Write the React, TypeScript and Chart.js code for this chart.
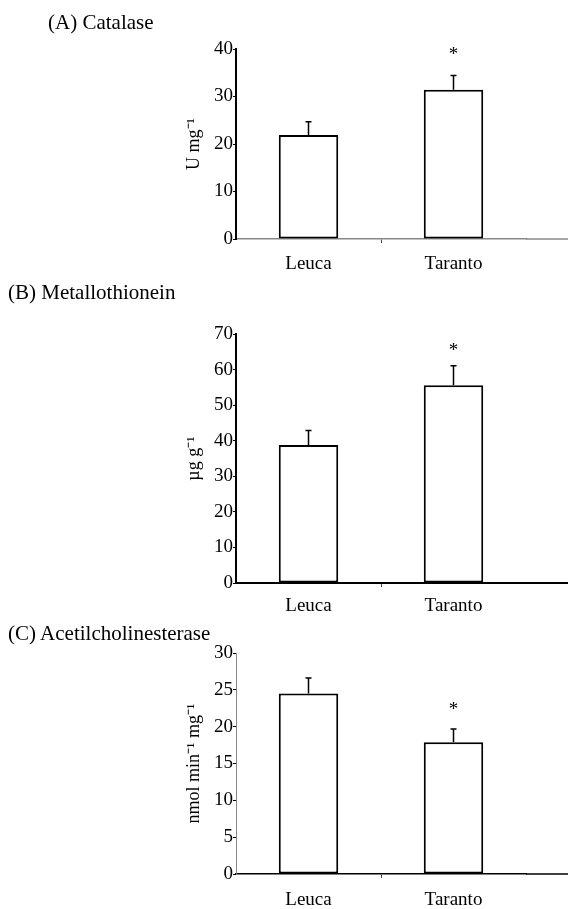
import React, { useEffect, useRef } from 'react';
import { Chart, registerables } from 'chart.js';

Chart.register(...registerables);

const categories = ['Leuca', 'Taranto'];

const catalaseValues = [21.9, 31.4];
const catalaseErrors = [2.8, 3.0];
const catalaseSig = [false, true];

const metallothioneinValues = [38.8, 55.6];
const metallothioneinErrors = [4.1, 5.5];
const metallothioneinSig = [false, true];

const acheValues = [24.5, 17.9];
const acheErrors = [2.1, 1.8];
const acheSig = [false, true];

const SERIF = "'Liberation Serif', 'Times New Roman', serif";

const errorPlugin = {
  id: 'errorBars',
  afterDatasetsDraw(chart: any, _args: any, opts: any) {
    const ctx = chart.ctx;
    const meta = chart.getDatasetMeta(0);
    const yScale = chart.scales.y;
    const values = chart.data.datasets[0].data as number[];
    ctx.save();
    meta.data.forEach((bar: any, i: number) => {
      const x = bar.x;
      const yTop = yScale.getPixelForValue(values[i]);
      const yErr = yScale.getPixelForValue(values[i] + opts.errors[i]);
      ctx.strokeStyle = '#000';
      ctx.lineWidth = 1.5;
      ctx.beginPath();
      ctx.moveTo(x, yTop);
      ctx.lineTo(x, yErr);
      ctx.moveTo(x - 3, yErr);
      ctx.lineTo(x + 3, yErr);
      ctx.stroke();
      if (opts.sig[i]) {
        ctx.fillStyle = '#000';
        ctx.font = `19px ${SERIF}`;
        ctx.textAlign = 'center';
        ctx.textBaseline = 'middle';
        ctx.fillText('*', x, yErr - opts.starGap);
      }
    });
    // extend x axis line to the right edge
    const a = chart.chartArea;
    ctx.strokeStyle = opts.xColor;
    ctx.lineWidth = opts.xWidth;
    ctx.beginPath();
    ctx.moveTo(a.right, a.bottom);
    ctx.lineTo(chart.width, a.bottom);
    ctx.stroke();
    ctx.restore();
  },
};

type PanelProps = {
  top: number;
  height: number;
  padTop: number;
  xHeight: number;
  labelPad: number;
  starGap: number;
  values: number[];
  errors: number[];
  sig: boolean[];
  yMax: number;
  yStep: number;
  yTitle: string;
  yColor: string;
  yWidth: number;
  xColor: string;
  xWidth: number;
};

function Panel(p: PanelProps) {
  const ref = useRef<HTMLCanvasElement>(null);
  useEffect(() => {
    const font = { family: SERIF, size: 19 };
    const chart = new Chart(ref.current as HTMLCanvasElement, {
      type: 'bar',
      data: {
        labels: categories,
        datasets: [
          {
            data: p.values,
            backgroundColor: '#ffffff',
            borderColor: '#000000',
            borderWidth: 2,
            borderSkipped: false,
            categoryPercentage: 0.41,
            barPercentage: 1,
          },
        ],
      },
      options: {
        responsive: false,
        animation: false,
        devicePixelRatio: 1,
        layout: { padding: { left: 180, top: p.padTop, right: 42, bottom: 0 } },
        plugins: {
          legend: { display: false },
          tooltip: { enabled: false },
          errorBars: { errors: p.errors, sig: p.sig, xColor: p.xColor, xWidth: p.xWidth, starGap: p.starGap },
        } as any,
        scales: {
          x: {
            offset: true,
            grid: {
              display: true,
              drawOnChartArea: false,
              offset: true,
              tickLength: 4,
              lineWidth: 1,
              color: (c: any) => (c.index === 1 ? '#444' : 'rgba(0,0,0,0)'),
            },
            border: { color: p.xColor, width: p.xWidth },
            ticks: { font, color: '#000', padding: p.labelPad },
            afterFit: (s: any) => {
              s.height = p.xHeight;
            },
          },
          y: {
            min: 0,
            max: p.yMax,
            ticks: { stepSize: p.yStep, font, color: '#000', padding: 0 },
            grid: { drawOnChartArea: false, tickLength: 3, color: '#000', lineWidth: 1 },
            border: { color: p.yColor, width: p.yWidth },
            title: {
              display: true,
              text: p.yTitle,
              font: { family: SERIF, size: 18 },
              color: '#000',
              padding: { top: 3, bottom: 0 },
            },
            afterFit: (s: any) => {
              s.width = 56;
            },
          },
        },
      } as any,
      plugins: [errorPlugin],
    });
    return () => chart.destroy();
  }, []);
  return (
    <canvas
      ref={ref}
      width={568}
      height={p.height}
      style={{ position: 'absolute', left: 0, top: p.top, width: 568, height: p.height }}
    />
  );
}

const titleStyle = (left: number, top: number): React.CSSProperties => ({
  position: 'absolute',
  left,
  top,
  fontFamily: SERIF,
  fontSize: 21,
  lineHeight: '21px',
  color: '#000',
  whiteSpace: 'nowrap',
});

export default function App() {
  return (
    <div style={{ position: 'absolute', left: 0, top: 0, width: 568, height: 909, background: '#fff', overflow: 'hidden' }}>
      <Panel
        top={0}
        height={290}
        padTop={49}
        xHeight={51}
        labelPad={10}
        starGap={21}
        values={catalaseValues}
        errors={catalaseErrors}
        sig={catalaseSig}
        yMax={40}
        yStep={10}
        yTitle="U mg⁻¹"
        yColor="#000"
        yWidth={2}
        xColor="#888"
        xWidth={1.5}
      />
      <Panel
        top={300}
        height={322}
        padTop={34}
        xHeight={39}
        labelPad={8}
        starGap={15}
        values={metallothioneinValues}
        errors={metallothioneinErrors}
        sig={metallothioneinSig}
        yMax={70}
        yStep={10}
        yTitle="µg g⁻¹"
        yColor="#000"
        yWidth={2}
        xColor="#000"
        xWidth={2}
      />
      <Panel
        top={640}
        height={269}
        padTop={13}
        xHeight={35}
        labelPad={11}
        starGap={19}
        values={acheValues}
        errors={acheErrors}
        sig={acheSig}
        yMax={30}
        yStep={5}
        yTitle="nmol min⁻¹ mg⁻¹"
        yColor="#888"
        yWidth={1}
        xColor="#000"
        xWidth={1.5}
      />
      <div style={titleStyle(48, 12)}>(A) Catalase</div>
      <div style={titleStyle(8, 282)}>(B) Metallothionein</div>
      <div style={titleStyle(8, 623)}>(C) Acetilcholinesterase</div>
    </div>
  );
}
